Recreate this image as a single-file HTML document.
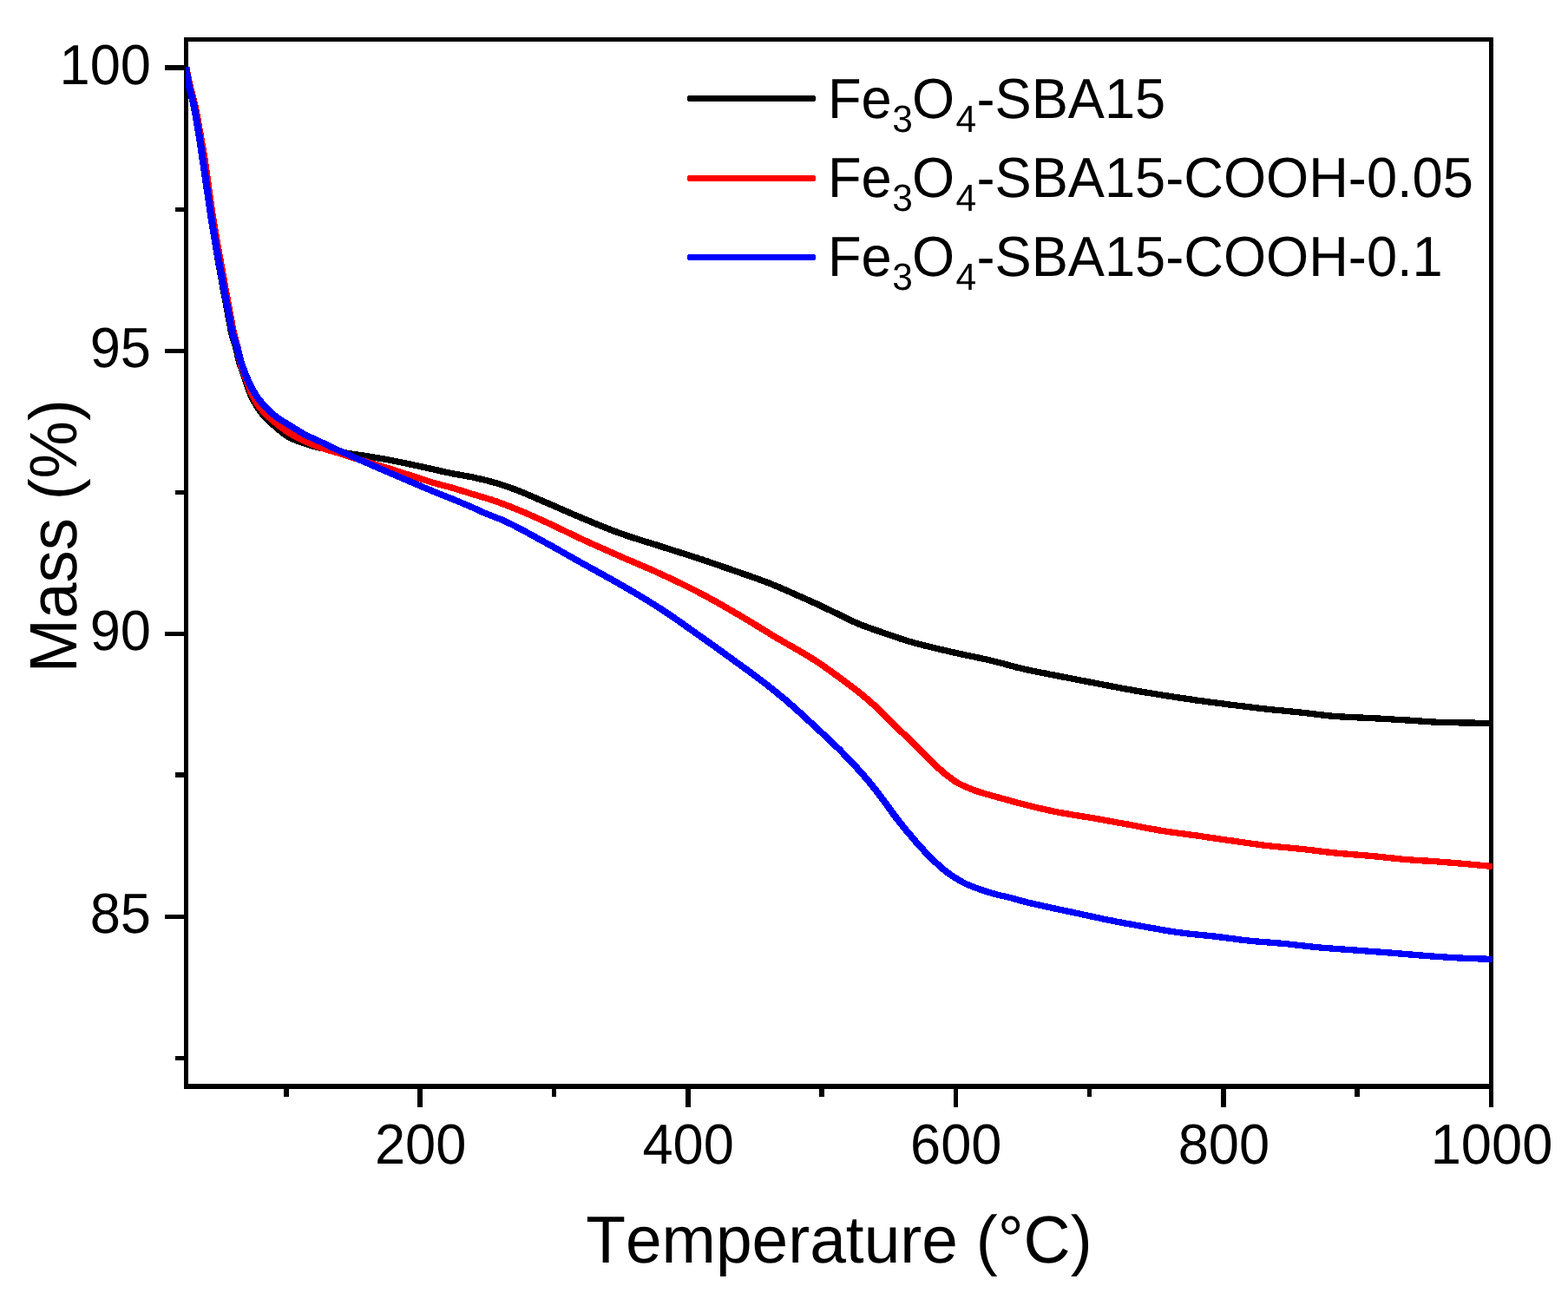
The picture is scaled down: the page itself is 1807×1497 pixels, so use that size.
<!DOCTYPE html>
<html lang="en"><head><meta charset="utf-8"><title>TGA curves</title>
<style>html,body{margin:0;padding:0;background:#fff}body{width:1807px;height:1497px;overflow:hidden}svg{display:block}text{font-family:"Liberation Sans",sans-serif;fill:#000;font-kerning:none;font-variant-ligatures:none;text-rendering:geometricPrecision}</style>
</head><body>
<svg role="img" aria-label="Thermogravimetric mass loss curves" width="1807" height="1497" viewBox="0 0 1807 1497">
<rect width="1807" height="1497" fill="#fff"/>
<g fill="#000" shape-rendering="crispEdges">
<rect x="212" y="43" width="1509" height="5"/>
<rect x="212" y="1249" width="1509" height="6"/>
<rect x="212" y="43" width="5" height="1212"/>
<rect x="1716" y="43" width="5" height="1233"/>
<rect x="190" y="75" width="24" height="6"/>
<rect x="190" y="402" width="24" height="5"/>
<rect x="190" y="728" width="24" height="5"/>
<rect x="190" y="1054" width="24" height="5"/>
<rect x="202" y="239" width="12" height="5"/>
<rect x="202" y="565" width="12" height="5"/>
<rect x="202" y="890" width="12" height="6"/>
<rect x="202" y="1217" width="12" height="5"/>
<rect x="481" y="1252" width="6" height="24"/>
<rect x="790" y="1252" width="6" height="24"/>
<rect x="1099" y="1252" width="5" height="24"/>
<rect x="1407" y="1252" width="6" height="24"/>
<rect x="327" y="1252" width="6" height="12"/>
<rect x="636" y="1252" width="5" height="12"/>
<rect x="944" y="1252" width="6" height="12"/>
<rect x="1253" y="1252" width="5" height="12"/>
<rect x="1561" y="1252" width="6" height="12"/>
</g>
<defs><clipPath id="plot"><rect x="214" y="46" width="1506" height="1206"/></clipPath></defs>
<g clip-path="url(#plot)"><g transform="scale(1.12,1)" fill="none" stroke-width="7.3" stroke-linejoin="round" stroke-linecap="butt" shape-rendering="crispEdges">
<path d="M191.07,77.0L191.51,79.9L191.95,82.9L192.40,85.8L192.86,88.7L193.34,91.6L193.83,94.5L194.34,97.4L194.88,100.2L195.45,103.0L196.06,105.9L196.71,108.7L197.38,111.6L198.05,114.6L198.70,117.6L199.30,120.6L199.86,123.6L200.39,126.7L200.90,129.7L201.39,132.6L201.87,135.6L202.34,138.6L202.80,141.6L203.25,144.6L203.69,147.6L204.13,150.5L204.57,153.5L205.00,156.5L205.42,159.5L205.83,162.5L206.23,165.5L206.63,168.5L207.02,171.5L207.40,174.4L207.79,177.4L208.17,180.4L208.56,183.3L208.95,186.3L209.34,189.3L209.74,192.2L210.13,195.2L210.52,198.2L210.91,201.1L211.30,204.1L211.69,207.1L212.08,210.0L212.47,213.0L212.86,216.0L213.25,218.9L213.64,221.9L214.03,224.9L214.42,227.9L214.80,230.8L215.18,233.8L215.56,236.8L215.95,239.7L216.33,242.7L216.72,245.7L217.11,248.6L217.51,251.5L217.92,254.5L218.33,257.4L218.75,260.4L219.17,263.3L219.60,266.3L220.04,269.2L220.47,272.2L220.91,275.1L221.36,278.1L221.80,281.0L222.25,284.0L222.70,286.9L223.14,289.9L223.59,292.8L224.05,295.8L224.50,298.7L224.96,301.7L225.42,304.6L225.88,307.6L226.34,310.5L226.81,313.4L227.28,316.4L227.75,319.3L228.23,322.3L228.70,325.2L229.18,328.2L229.66,331.1L230.15,334.1L230.64,337.0L231.13,339.9L231.62,342.9L232.11,345.8L232.61,348.8L233.11,351.7L233.61,354.7L234.10,357.6L234.58,360.6L235.06,363.6L235.54,366.5L236.02,369.5L236.50,372.4L236.99,375.3L237.49,378.2L238.02,381.1L238.57,383.9L239.17,386.7L239.82,389.4L240.57,392.1L241.39,394.9L242.22,397.9L242.99,401.0L243.66,404.0L244.27,407.0L244.85,409.9L245.44,412.8L246.06,415.6L246.75,418.3L247.54,421.0L248.39,423.7L249.30,426.5L250.23,429.3L251.15,432.2L252.03,435.2L252.84,438.1L253.62,441.0L254.39,443.8L255.18,446.6L256.04,449.3L257.01,451.9L258.07,454.6L259.17,457.2L260.33,459.9L261.53,462.5L262.79,465.0L264.11,467.5L265.50,470.0L266.97,472.4L268.52,474.8L270.15,477.1L271.86,479.3L273.63,481.5L275.48,483.6L277.38,485.6L279.33,487.7L281.31,489.7L283.31,491.6L285.32,493.6L287.33,495.6L289.36,497.5L291.43,499.4L293.55,501.1L295.74,502.7L298.01,504.2L300.38,505.5L302.80,506.7L305.27,507.9L307.76,508.9L310.28,509.9L312.81,510.9L315.35,511.8L317.89,512.7L320.45,513.6L323.02,514.4L325.61,515.2L328.20,515.9L330.81,516.5L333.44,517.1L336.07,517.7L338.70,518.2L341.33,518.8L343.96,519.4L346.59,520.0L349.21,520.6L351.83,521.2L354.46,521.7L357.10,522.2L359.74,522.7L362.39,523.2L365.03,523.6L367.68,524.0L370.33,524.5L372.98,524.9L375.63,525.4L378.27,525.9L380.92,526.3L383.57,526.8L386.21,527.3L388.86,527.8L391.50,528.3L394.14,528.8L396.77,529.3L399.41,529.9L402.04,530.4L404.67,531.0L407.30,531.6L409.93,532.2L412.55,532.8L415.17,533.4L417.80,534.0L420.42,534.6L423.04,535.3L425.66,535.9L428.28,536.5L430.89,537.2L433.51,537.8L436.13,538.4L438.75,539.1L441.37,539.7L443.98,540.4L446.59,541.1L449.20,541.7L451.81,542.4L454.41,543.1L457.03,543.8L459.64,544.4L462.26,545.0L464.88,545.6L467.51,546.2L470.14,546.7L472.78,547.2L475.42,547.7L478.06,548.3L480.70,548.8L483.33,549.3L485.96,549.9L488.58,550.6L491.20,551.2L493.81,551.9L496.42,552.6L499.03,553.3L501.63,554.0L504.22,554.8L506.81,555.6L509.39,556.4L511.96,557.2L514.53,558.1L517.08,559.0L519.63,560.0L522.17,561.0L524.70,561.9L527.22,563.0L529.74,564.0L532.26,565.0L534.75,566.1L537.24,567.3L539.72,568.4L542.19,569.6L544.66,570.8L547.12,572.0L549.57,573.2L552.03,574.4L554.49,575.6L556.95,576.7L559.41,577.9L561.87,579.1L564.33,580.3L566.79,581.5L569.25,582.7L571.70,583.9L574.16,585.1L576.61,586.3L579.06,587.5L581.51,588.7L583.97,589.9L586.42,591.1L588.88,592.3L591.34,593.5L593.80,594.6L596.27,595.8L598.74,597.0L601.21,598.1L603.69,599.3L606.16,600.4L608.63,601.6L611.11,602.7L613.58,603.9L616.06,605.0L618.54,606.1L621.02,607.3L623.50,608.4L625.99,609.5L628.49,610.6L630.99,611.6L633.49,612.7L636.00,613.7L638.52,614.7L641.04,615.7L643.57,616.7L646.10,617.7L648.64,618.6L651.19,619.6L653.73,620.5L656.29,621.4L658.84,622.3L661.40,623.2L663.95,624.1L666.51,625.0L669.07,625.8L671.63,626.7L674.18,627.6L676.74,628.5L679.29,629.5L681.84,630.4L684.39,631.3L686.95,632.2L689.50,633.1L692.05,634.0L694.61,634.9L697.16,635.8L699.72,636.7L702.27,637.6L704.82,638.5L707.38,639.4L709.93,640.3L712.48,641.3L715.03,642.2L717.57,643.1L720.12,644.1L722.66,645.0L725.20,646.0L727.74,646.9L730.27,647.9L732.81,648.9L735.34,649.8L737.88,650.8L740.41,651.8L742.94,652.8L745.47,653.8L748.00,654.7L750.53,655.7L753.06,656.7L755.59,657.7L758.12,658.7L760.64,659.7L763.17,660.7L765.70,661.7L768.23,662.7L770.77,663.6L773.29,664.6L775.82,665.6L778.35,666.6L780.87,667.6L783.39,668.7L785.91,669.7L788.42,670.8L790.92,671.8L793.42,672.9L795.91,674.1L798.39,675.2L800.86,676.4L803.32,677.6L805.78,678.7L808.24,679.9L810.70,681.1L813.15,682.4L815.59,683.6L818.03,684.8L820.47,686.1L822.91,687.3L825.36,688.5L827.81,689.7L830.26,690.9L832.71,692.1L835.16,693.4L837.61,694.6L840.05,695.8L842.48,697.1L844.91,698.4L847.32,699.7L849.74,701.0L852.15,702.3L854.57,703.6L856.99,704.9L859.40,706.2L861.81,707.5L864.22,708.8L866.62,710.2L869.02,711.5L871.43,712.8L873.84,714.1L876.26,715.4L878.69,716.6L881.13,717.8L883.59,719.0L886.07,720.1L888.56,721.2L891.06,722.2L893.57,723.3L896.09,724.3L898.61,725.3L901.14,726.3L903.67,727.2L906.20,728.2L908.74,729.2L911.27,730.1L913.81,731.1L916.34,732.1L918.87,733.1L921.40,734.1L923.94,735.0L926.48,736.0L929.02,736.9L931.57,737.8L934.12,738.7L936.69,739.5L939.26,740.4L941.84,741.2L944.42,742.0L947.01,742.7L949.60,743.5L952.20,744.2L954.79,744.9L957.40,745.6L960.00,746.3L962.60,747.0L965.21,747.7L967.81,748.4L970.42,749.1L973.03,749.8L975.64,750.5L978.25,751.1L980.86,751.8L983.48,752.4L986.09,753.1L988.71,753.7L991.33,754.4L993.95,755.0L996.57,755.6L999.19,756.2L1001.81,756.8L1004.43,757.5L1007.05,758.1L1009.67,758.7L1012.28,759.4L1014.90,760.0L1017.51,760.7L1020.12,761.4L1022.72,762.1L1025.32,762.8L1027.92,763.6L1030.51,764.4L1033.10,765.1L1035.68,765.9L1038.27,766.7L1040.86,767.5L1043.45,768.2L1046.04,769.0L1048.64,769.7L1051.24,770.4L1053.84,771.1L1056.46,771.7L1059.07,772.4L1061.69,773.0L1064.32,773.6L1066.94,774.2L1069.57,774.8L1072.19,775.3L1074.82,775.9L1077.45,776.5L1080.08,777.1L1082.71,777.6L1085.34,778.2L1087.97,778.8L1090.60,779.4L1093.22,780.0L1095.85,780.5L1098.48,781.1L1101.11,781.7L1103.74,782.3L1106.37,782.8L1109.00,783.4L1111.62,784.0L1114.25,784.5L1116.88,785.1L1119.51,785.7L1122.15,786.2L1124.78,786.8L1127.41,787.4L1130.04,787.9L1132.67,788.5L1135.30,789.1L1137.93,789.7L1140.56,790.2L1143.19,790.8L1145.82,791.4L1148.45,791.9L1151.08,792.5L1153.71,793.0L1156.35,793.6L1158.98,794.1L1161.62,794.6L1164.25,795.1L1166.89,795.7L1169.53,796.2L1172.17,796.7L1174.81,797.2L1177.45,797.7L1180.09,798.2L1182.74,798.7L1185.38,799.1L1188.02,799.6L1190.67,800.1L1193.31,800.6L1195.96,801.1L1198.60,801.5L1201.25,802.0L1203.90,802.4L1206.54,802.9L1209.19,803.4L1211.84,803.8L1214.49,804.3L1217.14,804.7L1219.78,805.1L1222.43,805.6L1225.09,806.0L1227.74,806.4L1230.39,806.9L1233.04,807.3L1235.69,807.7L1238.35,808.1L1241.00,808.5L1243.65,808.9L1246.31,809.3L1248.96,809.7L1251.62,810.1L1254.28,810.5L1256.93,810.8L1259.59,811.2L1262.25,811.6L1264.90,812.0L1267.56,812.4L1270.22,812.7L1272.88,813.1L1275.53,813.5L1278.19,813.8L1280.85,814.2L1283.51,814.6L1286.17,814.9L1288.83,815.3L1291.49,815.7L1294.15,816.0L1296.81,816.3L1299.47,816.7L1302.13,817.0L1304.79,817.3L1307.46,817.7L1310.12,818.0L1312.79,818.3L1315.45,818.6L1318.12,818.8L1320.78,819.1L1323.45,819.4L1326.12,819.7L1328.78,820.0L1331.45,820.3L1334.11,820.6L1336.78,820.9L1339.44,821.2L1342.11,821.5L1344.77,821.9L1347.43,822.2L1350.09,822.6L1352.75,822.9L1355.41,823.3L1358.06,823.7L1360.72,824.0L1363.38,824.4L1366.05,824.7L1368.71,825.0L1371.38,825.3L1374.05,825.5L1376.72,825.7L1379.39,825.9L1382.06,826.1L1384.74,826.2L1387.41,826.4L1390.09,826.5L1392.76,826.7L1395.44,826.8L1398.12,826.9L1400.79,827.0L1403.47,827.2L1406.14,827.3L1408.82,827.5L1411.49,827.6L1414.17,827.8L1416.84,828.0L1419.52,828.1L1422.19,828.3L1424.87,828.5L1427.54,828.6L1430.22,828.8L1432.89,829.0L1435.56,829.2L1438.24,829.3L1440.91,829.5L1443.59,829.7L1446.26,829.9L1448.93,830.0L1451.61,830.2L1454.28,830.4L1456.95,830.7L1459.62,830.9L1462.29,831.1L1464.97,831.3L1467.64,831.5L1470.31,831.7L1472.98,831.9L1475.66,832.0L1478.33,832.2L1481.01,832.3L1483.69,832.3L1486.37,832.4L1489.04,832.5L1491.72,832.6L1494.40,832.7L1497.08,832.7L1499.75,832.8L1502.43,832.9L1505.11,832.9L1507.79,833.0L1510.47,833.0L1513.14,833.1L1515.82,833.1L1518.50,833.2L1521.18,833.2L1523.86,833.2L1526.54,833.3L1529.22,833.3L1531.89,833.3L1534.57,833.3L1535.71,833.3" stroke="#000"/>
<path d="M191.34,77.0L191.82,79.9L192.31,82.8L192.81,85.8L193.32,88.7L193.84,91.6L194.38,94.5L194.94,97.3L195.51,100.2L196.12,103.0L196.78,105.8L197.46,108.7L198.17,111.6L198.87,114.5L199.54,117.5L200.18,120.6L200.77,123.6L201.32,126.6L201.85,129.6L202.36,132.6L202.86,135.6L203.34,138.5L203.82,141.5L204.29,144.5L204.76,147.4L205.23,150.4L205.70,153.3L206.18,156.3L206.65,159.2L207.12,162.2L207.59,165.2L208.05,168.1L208.51,171.1L208.97,174.1L209.41,177.1L209.85,180.1L210.28,183.1L210.70,186.1L211.11,189.1L211.51,192.1L211.89,195.1L212.26,198.1L212.62,201.1L212.98,204.1L213.33,207.1L213.69,210.0L214.04,213.0L214.40,216.0L214.77,218.9L215.14,221.8L215.52,224.8L215.90,227.8L216.28,230.7L216.66,233.7L217.04,236.7L217.42,239.6L217.81,242.6L218.20,245.5L218.60,248.5L219.00,251.4L219.42,254.3L219.84,257.3L220.27,260.2L220.70,263.1L221.15,266.1L221.60,269.0L222.05,272.0L222.51,274.9L222.97,277.8L223.43,280.8L223.90,283.8L224.36,286.7L224.82,289.7L225.29,292.6L225.76,295.5L226.24,298.5L226.71,301.4L227.19,304.4L227.67,307.3L228.15,310.3L228.63,313.2L229.11,316.2L229.59,319.1L230.07,322.1L230.55,325.0L231.03,328.0L231.50,331.0L231.98,333.9L232.45,336.9L232.93,339.8L233.41,342.7L233.90,345.7L234.38,348.6L234.87,351.6L235.36,354.5L235.86,357.5L236.34,360.4L236.83,363.4L237.31,366.3L237.79,369.3L238.28,372.2L238.78,375.1L239.29,378.0L239.82,380.9L240.36,383.8L240.94,386.6L241.55,389.3L242.24,392.1L242.99,395.0L243.73,398.0L244.42,401.1L245.01,404.2L245.53,407.2L246.04,410.1L246.55,413.0L247.10,415.7L247.74,418.4L248.48,421.1L249.30,423.9L250.17,426.6L251.10,429.4L252.04,432.2L252.95,435.1L253.81,438.0L254.67,440.8L255.53,443.6L256.42,446.4L257.36,449.0L258.40,451.7L259.52,454.3L260.69,457.0L261.90,459.6L263.17,462.1L264.50,464.6L265.90,467.1L267.40,469.4L269.01,471.7L270.72,473.9L272.50,476.1L274.37,478.2L276.30,480.2L278.28,482.1L280.31,484.1L282.35,486.0L284.40,487.9L286.46,489.8L288.55,491.7L290.66,493.5L292.80,495.2L294.98,496.9L297.20,498.6L299.47,500.1L301.77,501.6L304.10,503.1L306.46,504.4L308.84,505.8L311.24,507.1L313.66,508.4L316.09,509.6L318.54,510.8L321.00,512.0L323.47,513.1L325.96,514.2L328.46,515.2L330.97,516.2L333.51,517.2L336.06,518.1L338.62,518.9L341.19,519.8L343.76,520.6L346.34,521.4L348.91,522.3L351.48,523.2L354.03,524.1L356.58,525.0L359.12,526.0L361.66,526.9L364.21,527.8L366.76,528.7L369.31,529.6L371.87,530.5L374.43,531.4L377.00,532.2L379.57,533.1L382.14,533.9L384.72,534.7L387.29,535.6L389.86,536.4L392.43,537.3L395.00,538.1L397.56,539.0L400.12,539.9L402.68,540.8L405.23,541.7L407.78,542.6L410.33,543.6L412.88,544.5L415.43,545.4L417.98,546.3L420.53,547.2L423.08,548.1L425.63,549.1L428.18,550.0L430.72,550.9L433.27,551.9L435.82,552.8L438.36,553.7L440.92,554.6L443.47,555.5L446.03,556.4L448.60,557.2L451.18,558.0L453.76,558.8L456.35,559.5L458.95,560.3L461.54,561.0L464.12,561.8L466.70,562.7L469.27,563.5L471.83,564.4L474.39,565.3L476.95,566.2L479.51,567.1L482.06,568.0L484.62,568.9L487.18,569.8L489.74,570.6L492.31,571.5L494.88,572.3L497.45,573.2L500.02,574.0L502.58,574.9L505.14,575.8L507.69,576.8L510.22,577.7L512.75,578.7L515.28,579.8L517.79,580.8L520.30,581.9L522.80,583.0L525.30,584.0L527.79,585.2L530.28,586.3L532.76,587.4L535.24,588.6L537.71,589.7L540.18,590.9L542.64,592.1L545.10,593.3L547.55,594.5L550.00,595.7L552.45,596.9L554.89,598.2L557.33,599.4L559.78,600.6L562.21,601.9L564.64,603.2L567.07,604.4L569.49,605.7L571.91,607.0L574.33,608.3L576.74,609.6L579.15,610.9L581.56,612.2L583.97,613.5L586.38,614.8L588.80,616.1L591.21,617.4L593.63,618.7L596.06,620.0L598.48,621.2L600.92,622.5L603.35,623.7L605.79,625.0L608.23,626.2L610.67,627.5L613.11,628.7L615.55,629.9L618.00,631.1L620.44,632.4L622.89,633.6L625.34,634.8L627.79,636.0L630.23,637.2L632.68,638.4L635.13,639.7L637.59,640.9L640.04,642.1L642.49,643.3L644.95,644.5L647.41,645.7L649.87,646.8L652.33,648.0L654.79,649.2L657.26,650.4L659.72,651.5L662.19,652.7L664.65,653.9L667.11,655.1L669.57,656.3L672.02,657.5L674.47,658.7L676.91,660.0L679.35,661.2L681.79,662.5L684.22,663.7L686.65,665.0L689.08,666.2L691.51,667.5L693.93,668.8L696.35,670.1L698.77,671.4L701.18,672.7L703.59,674.0L706.00,675.3L708.40,676.7L710.80,678.0L713.19,679.4L715.58,680.7L717.97,682.1L720.35,683.5L722.72,684.9L725.09,686.3L727.45,687.7L729.80,689.2L732.15,690.6L734.49,692.1L736.83,693.5L739.16,695.0L741.50,696.5L743.82,698.0L746.15,699.5L748.47,701.0L750.79,702.5L753.11,704.0L755.42,705.5L757.74,707.0L760.05,708.5L762.37,710.0L764.67,711.6L766.97,713.1L769.27,714.7L771.56,716.2L773.85,717.8L776.14,719.3L778.42,720.9L780.71,722.5L782.99,724.0L785.27,725.6L787.56,727.2L789.84,728.7L792.13,730.3L794.42,731.9L796.71,733.4L799.00,735.0L801.30,736.5L803.61,738.0L805.92,739.5L808.24,741.0L810.57,742.5L812.90,744.0L815.22,745.4L817.55,746.9L819.88,748.4L822.21,749.9L824.53,751.4L826.84,752.9L829.15,754.5L831.45,756.0L833.74,757.6L836.02,759.2L838.29,760.8L840.54,762.4L842.78,764.1L845.01,765.8L847.22,767.5L849.42,769.2L851.60,771.0L853.78,772.7L855.95,774.5L858.12,776.3L860.27,778.0L862.43,779.8L864.58,781.6L866.73,783.4L868.88,785.2L871.03,787.0L873.18,788.8L875.33,790.6L877.47,792.4L879.60,794.2L881.73,796.0L883.85,797.9L885.95,799.8L888.04,801.6L890.12,803.6L892.18,805.5L894.22,807.5L896.24,809.5L898.23,811.5L900.20,813.5L902.16,815.6L904.09,817.7L906.02,819.8L907.93,821.9L909.84,824.0L911.75,826.1L913.65,828.2L915.56,830.3L917.47,832.4L919.38,834.5L921.31,836.6L923.24,838.7L925.16,840.8L927.09,842.9L929.01,845.0L930.93,847.0L932.85,849.1L934.77,851.2L936.69,853.3L938.61,855.4L940.52,857.5L942.44,859.6L944.35,861.7L946.27,863.8L948.18,865.9L950.07,868.1L951.96,870.2L953.84,872.4L955.71,874.5L957.60,876.6L959.49,878.7L961.40,880.8L963.34,882.8L965.30,884.8L967.29,886.8L969.30,888.8L971.33,890.7L973.39,892.6L975.49,894.4L977.61,896.2L979.74,898.0L981.90,899.8L984.10,901.4L986.38,902.9L988.74,904.2L991.15,905.5L993.59,906.6L996.06,907.8L998.54,908.9L1001.02,910.0L1003.52,911.1L1006.04,912.1L1008.57,913.0L1011.12,913.9L1013.68,914.8L1016.26,915.6L1018.83,916.4L1021.41,917.2L1023.99,918.0L1026.57,918.8L1029.16,919.6L1031.74,920.4L1034.32,921.2L1036.91,922.0L1039.49,922.8L1042.07,923.6L1044.65,924.4L1047.23,925.2L1049.82,925.9L1052.41,926.7L1055.01,927.4L1057.61,928.1L1060.21,928.8L1062.81,929.6L1065.41,930.3L1068.02,931.0L1070.62,931.7L1073.23,932.3L1075.84,933.0L1078.45,933.7L1081.07,934.3L1083.69,934.9L1086.31,935.5L1088.93,936.1L1091.56,936.7L1094.20,937.2L1096.83,937.7L1099.47,938.2L1102.11,938.7L1104.76,939.2L1107.40,939.7L1110.05,940.1L1112.69,940.6L1115.34,941.1L1117.98,941.6L1120.63,942.0L1123.27,942.5L1125.91,943.0L1128.55,943.6L1131.19,944.1L1133.82,944.6L1136.46,945.2L1139.10,945.7L1141.73,946.2L1144.37,946.8L1147.00,947.3L1149.63,947.9L1152.27,948.4L1154.90,948.9L1157.54,949.5L1160.17,950.0L1162.81,950.6L1165.44,951.1L1168.07,951.7L1170.70,952.3L1173.33,952.8L1175.96,953.4L1178.59,954.0L1181.22,954.5L1183.85,955.1L1186.49,955.6L1189.12,956.1L1191.76,956.7L1194.40,957.2L1197.04,957.6L1199.69,958.1L1202.34,958.6L1204.99,959.0L1207.64,959.4L1210.29,959.8L1212.94,960.2L1215.60,960.6L1218.25,961.0L1220.91,961.4L1223.56,961.8L1226.22,962.2L1228.87,962.6L1231.53,963.0L1234.18,963.5L1236.83,963.9L1239.48,964.3L1242.13,964.8L1244.78,965.2L1247.43,965.6L1250.08,966.1L1252.73,966.5L1255.38,967.0L1258.03,967.4L1260.68,967.8L1263.33,968.3L1265.98,968.7L1268.63,969.1L1271.28,969.5L1273.93,970.0L1276.58,970.4L1279.23,970.8L1281.89,971.3L1284.54,971.7L1287.19,972.1L1289.84,972.5L1292.50,972.9L1295.15,973.3L1297.81,973.7L1300.46,974.1L1303.12,974.4L1305.78,974.8L1308.44,975.1L1311.11,975.4L1313.77,975.7L1316.44,976.0L1319.10,976.3L1321.77,976.6L1324.44,976.8L1327.10,977.1L1329.77,977.4L1332.44,977.7L1335.10,978.0L1337.77,978.3L1340.43,978.6L1343.10,978.9L1345.76,979.3L1348.42,979.6L1351.08,980.0L1353.74,980.4L1356.40,980.7L1359.06,981.1L1361.72,981.4L1364.38,981.8L1367.04,982.1L1369.70,982.5L1372.36,982.8L1375.02,983.1L1377.69,983.4L1380.36,983.6L1383.03,983.9L1385.69,984.1L1388.36,984.4L1391.03,984.6L1393.70,984.9L1396.37,985.1L1399.04,985.4L1401.71,985.6L1404.38,985.8L1407.05,986.1L1409.72,986.4L1412.39,986.6L1415.05,986.9L1417.72,987.2L1420.39,987.5L1423.05,987.8L1425.71,988.2L1428.38,988.5L1431.04,988.8L1433.70,989.1L1436.37,989.4L1439.03,989.7L1441.70,990.0L1444.37,990.3L1447.03,990.5L1449.70,990.7L1452.38,991.0L1455.05,991.2L1457.72,991.4L1460.39,991.6L1463.07,991.8L1465.74,992.0L1468.41,992.1L1471.09,992.3L1473.76,992.5L1476.43,992.7L1479.10,992.9L1481.77,993.2L1484.45,993.4L1487.12,993.6L1489.79,993.9L1492.46,994.1L1495.13,994.4L1497.79,994.6L1500.46,994.9L1503.13,995.1L1505.80,995.4L1508.47,995.7L1511.14,995.9L1513.80,996.2L1516.47,996.5L1519.14,996.8L1521.81,997.0L1524.47,997.3L1527.14,997.6L1529.80,997.9L1532.47,998.2L1535.13,998.5L1535.71,998.6" stroke="#f00"/>
<path d="M191.07,77.0L191.51,79.9L191.95,82.9L192.40,85.8L192.86,88.7L193.34,91.6L193.83,94.5L194.34,97.4L194.88,100.2L195.45,103.0L196.06,105.9L196.71,108.7L197.38,111.6L198.05,114.6L198.70,117.6L199.30,120.6L199.86,123.6L200.39,126.7L200.90,129.7L201.39,132.6L201.87,135.6L202.34,138.6L202.80,141.6L203.25,144.6L203.69,147.6L204.13,150.5L204.57,153.5L205.00,156.5L205.42,159.5L205.83,162.5L206.23,165.5L206.63,168.5L207.02,171.5L207.40,174.4L207.79,177.4L208.17,180.4L208.56,183.3L208.95,186.3L209.34,189.3L209.74,192.2L210.13,195.2L210.52,198.2L210.91,201.1L211.30,204.1L211.69,207.1L212.08,210.0L212.47,213.0L212.86,216.0L213.25,218.9L213.64,221.9L214.03,224.9L214.41,227.9L214.79,230.9L215.17,233.8L215.55,236.8L215.94,239.8L216.32,242.7L216.71,245.7L217.10,248.6L217.50,251.5L217.92,254.4L218.34,257.4L218.77,260.3L219.20,263.3L219.65,266.2L220.10,269.1L220.55,272.1L221.01,275.0L221.47,278.0L221.93,280.9L222.40,283.9L222.86,286.8L223.33,289.8L223.79,292.7L224.26,295.7L224.73,298.6L225.20,301.6L225.67,304.5L226.15,307.5L226.63,310.4L227.11,313.3L227.59,316.3L228.08,319.2L228.58,322.2L229.07,325.1L229.57,328.0L230.08,331.0L230.58,333.9L231.10,336.8L231.61,339.8L232.12,342.7L232.64,345.6L233.16,348.6L233.68,351.5L234.21,354.5L234.72,357.5L235.23,360.4L235.73,363.4L236.22,366.3L236.72,369.3L237.22,372.2L237.73,375.1L238.26,378.0L238.80,380.8L239.38,383.7L240.00,386.4L240.69,389.1L241.47,391.8L242.33,394.6L243.23,397.5L244.07,400.5L244.81,403.6L245.48,406.6L246.12,409.5L246.77,412.4L247.44,415.1L248.18,417.8L248.99,420.6L249.84,423.4L250.73,426.1L251.67,428.9L252.64,431.6L253.66,434.3L254.70,437.1L255.78,439.8L256.89,442.4L258.04,445.1L259.24,447.7L260.51,450.2L261.85,452.7L263.24,455.2L264.69,457.7L266.22,460.0L267.82,462.3L269.51,464.6L271.25,466.8L273.04,469.0L274.87,471.2L276.76,473.2L278.69,475.3L280.68,477.2L282.73,479.1L284.83,480.8L287.01,482.5L289.24,484.1L291.50,485.7L293.79,487.2L296.09,488.8L298.38,490.4L300.64,492.0L302.90,493.6L305.16,495.2L307.43,496.8L309.72,498.3L312.04,499.8L314.39,501.2L316.78,502.5L319.19,503.8L321.61,505.0L324.05,506.3L326.49,507.5L328.93,508.8L331.36,510.0L333.78,511.3L336.20,512.6L338.62,513.9L341.05,515.2L343.47,516.4L345.89,517.7L348.32,519.0L350.75,520.2L353.19,521.5L355.62,522.7L358.06,523.9L360.51,525.2L362.95,526.4L365.40,527.6L367.85,528.8L370.30,530.0L372.75,531.2L375.21,532.4L377.66,533.6L380.11,534.8L382.57,536.0L385.02,537.2L387.48,538.4L389.94,539.6L392.40,540.8L394.85,542.0L397.31,543.2L399.77,544.4L402.23,545.6L404.69,546.7L407.15,547.9L409.62,549.1L412.08,550.3L414.54,551.5L417.01,552.6L419.47,553.8L421.94,555.0L424.40,556.2L426.87,557.3L429.33,558.5L431.80,559.7L434.26,560.9L436.73,562.0L439.20,563.2L441.67,564.3L444.14,565.5L446.62,566.6L449.10,567.8L451.58,568.9L454.07,570.0L456.56,571.1L459.06,572.2L461.55,573.3L464.04,574.4L466.52,575.5L469.00,576.7L471.47,577.8L473.94,579.0L476.41,580.2L478.87,581.3L481.33,582.5L483.79,583.7L486.25,584.9L488.70,586.1L491.14,587.4L493.58,588.7L496.01,589.9L498.45,591.1L500.91,592.3L503.38,593.4L505.87,594.5L508.37,595.5L510.88,596.6L513.38,597.7L515.87,598.8L518.34,600.0L520.79,601.3L523.22,602.6L525.63,603.9L528.04,605.2L530.43,606.6L532.81,608.0L535.19,609.4L537.55,610.8L539.91,612.2L542.26,613.6L544.61,615.1L546.96,616.5L549.31,618.0L551.65,619.4L554.00,620.9L556.35,622.3L558.70,623.7L561.05,625.2L563.40,626.6L565.75,628.1L568.09,629.5L570.43,631.0L572.77,632.5L575.10,634.0L577.43,635.4L579.77,636.9L582.10,638.4L584.43,639.9L586.76,641.4L589.09,642.8L591.42,644.3L593.75,645.8L596.08,647.3L598.42,648.7L600.76,650.2L603.10,651.6L605.44,653.1L607.79,654.5L610.13,656.0L612.48,657.4L614.83,658.9L617.17,660.3L619.52,661.8L621.87,663.2L624.21,664.7L626.55,666.1L628.89,667.6L631.23,669.1L633.56,670.5L635.89,672.0L638.22,673.5L640.54,675.0L642.86,676.5L645.17,678.0L647.49,679.5L649.80,681.1L652.11,682.6L654.42,684.1L656.73,685.6L659.03,687.2L661.33,688.7L663.63,690.3L665.92,691.8L668.20,693.4L670.48,695.0L672.76,696.6L675.03,698.2L677.29,699.8L679.55,701.4L681.79,703.0L684.03,704.7L686.26,706.4L688.49,708.1L690.70,709.7L692.91,711.4L695.12,713.2L697.32,714.9L699.52,716.6L701.71,718.3L703.90,720.1L706.08,721.8L708.27,723.5L710.46,725.3L712.64,727.0L714.83,728.7L717.01,730.5L719.20,732.2L721.39,733.9L723.58,735.6L725.76,737.4L727.95,739.1L730.13,740.9L732.31,742.6L734.49,744.3L736.67,746.1L738.85,747.8L741.03,749.6L743.20,751.3L745.38,753.1L747.55,754.9L749.72,756.6L751.89,758.4L754.06,760.1L756.23,761.9L758.39,763.7L760.56,765.4L762.73,767.2L764.90,768.9L767.06,770.7L769.23,772.5L771.40,774.2L773.57,776.0L775.73,777.8L777.88,779.6L780.03,781.4L782.17,783.2L784.31,785.0L786.43,786.8L788.55,788.7L790.66,790.6L792.76,792.4L794.85,794.3L796.94,796.2L799.03,798.1L801.10,800.0L803.17,801.9L805.23,803.8L807.29,805.7L809.34,807.7L811.38,809.6L813.41,811.6L815.44,813.6L817.45,815.6L819.45,817.6L821.45,819.6L823.44,821.6L825.42,823.6L827.39,825.6L829.36,827.7L831.33,829.7L833.29,831.8L835.26,833.8L837.22,835.9L839.18,837.9L841.14,839.9L843.10,842.0L845.07,844.0L847.03,846.1L849.00,848.1L850.96,850.1L852.92,852.2L854.87,854.3L856.82,856.3L858.76,858.4L860.68,860.5L862.60,862.6L864.51,864.7L866.40,866.9L868.28,869.0L870.15,871.2L872.01,873.3L873.87,875.5L875.72,877.7L877.55,879.9L879.38,882.1L881.20,884.3L883.00,886.5L884.80,888.8L886.58,891.0L888.36,893.3L890.12,895.6L891.87,897.8L893.61,900.1L895.33,902.5L897.03,904.8L898.72,907.1L900.39,909.5L902.04,911.9L903.69,914.3L905.32,916.7L906.94,919.1L908.55,921.5L910.16,923.9L911.76,926.3L913.33,928.8L914.87,931.2L916.41,933.7L917.95,936.1L919.51,938.5L921.12,940.9L922.74,943.3L924.38,945.6L926.03,948.0L927.69,950.3L929.36,952.6L931.04,955.0L932.74,957.3L934.45,959.6L936.17,961.8L937.90,964.1L939.64,966.4L941.39,968.7L943.14,970.9L944.91,973.2L946.69,975.4L948.48,977.6L950.29,979.8L952.11,982.0L953.96,984.1L955.83,986.2L957.72,988.3L959.62,990.5L961.53,992.5L963.46,994.6L965.41,996.6L967.38,998.6L969.38,1000.6L971.41,1002.5L973.48,1004.4L975.60,1006.1L977.75,1007.9L979.95,1009.6L982.18,1011.2L984.44,1012.7L986.73,1014.3L989.04,1015.8L991.39,1017.2L993.76,1018.5L996.18,1019.7L998.64,1020.9L1001.13,1021.9L1003.64,1023.0L1006.16,1024.0L1008.67,1025.0L1011.19,1026.0L1013.71,1027.0L1016.25,1027.9L1018.81,1028.8L1021.38,1029.6L1023.96,1030.4L1026.54,1031.2L1029.14,1031.9L1031.75,1032.5L1034.37,1033.2L1036.98,1033.9L1039.59,1034.6L1042.18,1035.4L1044.76,1036.2L1047.33,1037.0L1049.91,1037.8L1052.49,1038.6L1055.08,1039.3L1057.68,1040.1L1060.29,1040.8L1062.89,1041.4L1065.50,1042.1L1068.11,1042.8L1070.73,1043.4L1073.34,1044.1L1075.96,1044.7L1078.57,1045.4L1081.19,1046.0L1083.81,1046.6L1086.42,1047.3L1089.04,1047.9L1091.66,1048.5L1094.28,1049.2L1096.90,1049.8L1099.52,1050.4L1102.15,1051.0L1104.77,1051.6L1107.39,1052.3L1110.01,1052.9L1112.62,1053.5L1115.24,1054.2L1117.86,1054.8L1120.47,1055.5L1123.09,1056.1L1125.71,1056.7L1128.32,1057.4L1130.94,1058.0L1133.56,1058.6L1136.18,1059.3L1138.80,1059.9L1141.42,1060.5L1144.05,1061.0L1146.68,1061.6L1149.31,1062.2L1151.94,1062.8L1154.57,1063.3L1157.20,1063.9L1159.84,1064.4L1162.47,1064.9L1165.11,1065.5L1167.74,1066.0L1170.38,1066.5L1173.01,1067.1L1175.65,1067.6L1178.29,1068.1L1180.93,1068.6L1183.57,1069.2L1186.20,1069.7L1188.84,1070.2L1191.47,1070.7L1194.11,1071.3L1196.75,1071.8L1199.39,1072.3L1202.03,1072.8L1204.67,1073.3L1207.32,1073.7L1209.96,1074.2L1212.61,1074.6L1215.27,1075.0L1217.92,1075.4L1220.58,1075.7L1223.25,1076.1L1225.91,1076.4L1228.57,1076.7L1231.24,1077.0L1233.90,1077.3L1236.57,1077.6L1239.23,1077.9L1241.90,1078.2L1244.56,1078.5L1247.23,1078.8L1249.89,1079.1L1252.55,1079.5L1255.21,1079.9L1257.87,1080.2L1260.52,1080.6L1263.18,1081.0L1265.84,1081.4L1268.49,1081.8L1271.15,1082.2L1273.80,1082.6L1276.46,1083.0L1279.12,1083.3L1281.78,1083.7L1284.44,1084.0L1287.10,1084.3L1289.77,1084.6L1292.43,1084.9L1295.10,1085.1L1297.77,1085.4L1300.44,1085.6L1303.11,1085.8L1305.78,1086.0L1308.45,1086.3L1311.13,1086.5L1313.80,1086.8L1316.46,1087.0L1319.13,1087.3L1321.80,1087.5L1324.47,1087.8L1327.13,1088.2L1329.80,1088.5L1332.46,1088.8L1335.12,1089.2L1337.78,1089.5L1340.44,1089.9L1343.10,1090.2L1345.76,1090.6L1348.42,1090.9L1351.08,1091.2L1353.75,1091.5L1356.41,1091.8L1359.08,1092.1L1361.75,1092.3L1364.42,1092.6L1367.09,1092.8L1369.76,1093.0L1372.43,1093.3L1375.10,1093.5L1377.77,1093.7L1380.44,1093.9L1383.12,1094.1L1385.79,1094.3L1388.46,1094.5L1391.13,1094.7L1393.80,1095.0L1396.47,1095.2L1399.15,1095.4L1401.82,1095.6L1404.49,1095.8L1407.16,1096.1L1409.83,1096.3L1412.50,1096.5L1415.17,1096.7L1417.84,1097.0L1420.52,1097.2L1423.19,1097.4L1425.86,1097.6L1428.53,1097.9L1431.20,1098.1L1433.87,1098.4L1436.54,1098.6L1439.21,1098.9L1441.88,1099.1L1444.55,1099.4L1447.21,1099.6L1449.88,1099.9L1452.55,1100.1L1455.22,1100.4L1457.89,1100.6L1460.56,1100.9L1463.23,1101.1L1465.90,1101.3L1468.57,1101.5L1471.24,1101.8L1473.92,1102.0L1476.59,1102.2L1479.26,1102.4L1481.93,1102.6L1484.60,1102.8L1487.27,1103.1L1489.95,1103.2L1492.62,1103.4L1495.29,1103.6L1497.97,1103.8L1500.64,1103.9L1503.32,1104.0L1505.99,1104.2L1508.67,1104.3L1511.35,1104.4L1514.02,1104.6L1516.70,1104.7L1519.38,1104.8L1522.05,1104.9L1524.73,1105.0L1527.41,1105.1L1530.08,1105.2L1532.76,1105.2L1535.44,1105.3L1535.71,1105.3" stroke="#00f"/>
</g></g>
<text transform="translate(174.0,97.0) scale(1,1.03)" font-size="63.2" text-anchor="end">100</text>
<text transform="translate(174.0,423.1) scale(1,1.03)" font-size="63.2" text-anchor="end">95</text>
<text transform="translate(174.0,749.2) scale(1,1.03)" font-size="63.2" text-anchor="end">90</text>
<text transform="translate(174.0,1075.3) scale(1,1.03)" font-size="63.2" text-anchor="end">85</text>
<text transform="translate(484.6,1340.6) scale(1,1.03)" font-size="63.2" text-anchor="middle">200</text>
<text transform="translate(793.2,1340.6) scale(1,1.03)" font-size="63.2" text-anchor="middle">400</text>
<text transform="translate(1101.8,1340.6) scale(1,1.03)" font-size="63.2" text-anchor="middle">600</text>
<text transform="translate(1410.4,1340.6) scale(1,1.03)" font-size="63.2" text-anchor="middle">800</text>
<text transform="translate(1719.0,1340.6) scale(1,1.03)" font-size="63.2" text-anchor="middle">1000</text>
<text transform="translate(966.9,1455.0) scale(1,1.026)" font-size="74.9" text-anchor="middle">Temperature (°C)</text>
<text transform="translate(88.1,617.7) rotate(-90) scale(1,1.035)" font-size="74.6" text-anchor="middle">Mass (%)</text>
<path d="M793,110H939V111H940V116H939V117H793V116H792V111H793Z" fill="#000" shape-rendering="crispEdges"/>
<text transform="translate(954,135.9) scale(1,1.03)" font-size="63.2"><tspan x="0">Fe</tspan><tspan x="74.2" font-size="42.5" dy="15.53">3</tspan><tspan x="96.9" dy="-15.53">O</tspan><tspan x="147.6" font-size="42.5" dy="15.53">4</tspan><tspan x="171.5" dy="-15.53">-SBA15</tspan></text>
<path d="M793,202H939V203H940V208H939V209H793V208H792V203H793Z" fill="#f00" shape-rendering="crispEdges"/>
<text transform="translate(954,226.8) scale(1,1.03)" font-size="63.2"><tspan x="0">Fe</tspan><tspan x="74.2" font-size="42.5" dy="15.53">3</tspan><tspan x="96.9" dy="-15.53">O</tspan><tspan x="147.6" font-size="42.5" dy="15.53">4</tspan><tspan x="171.5" dy="-15.53">-SBA15-COOH-0.05</tspan></text>
<path d="M793,293H939V294H940V299H939V300H793V299H792V294H793Z" fill="#00f" shape-rendering="crispEdges"/>
<text transform="translate(954,317.9) scale(1,1.03)" font-size="63.2"><tspan x="0">Fe</tspan><tspan x="74.2" font-size="42.5" dy="15.53">3</tspan><tspan x="96.9" dy="-15.53">O</tspan><tspan x="147.6" font-size="42.5" dy="15.53">4</tspan><tspan x="171.5" dy="-15.53">-SBA15-COOH-0.1</tspan></text>
</svg>
</body></html>
